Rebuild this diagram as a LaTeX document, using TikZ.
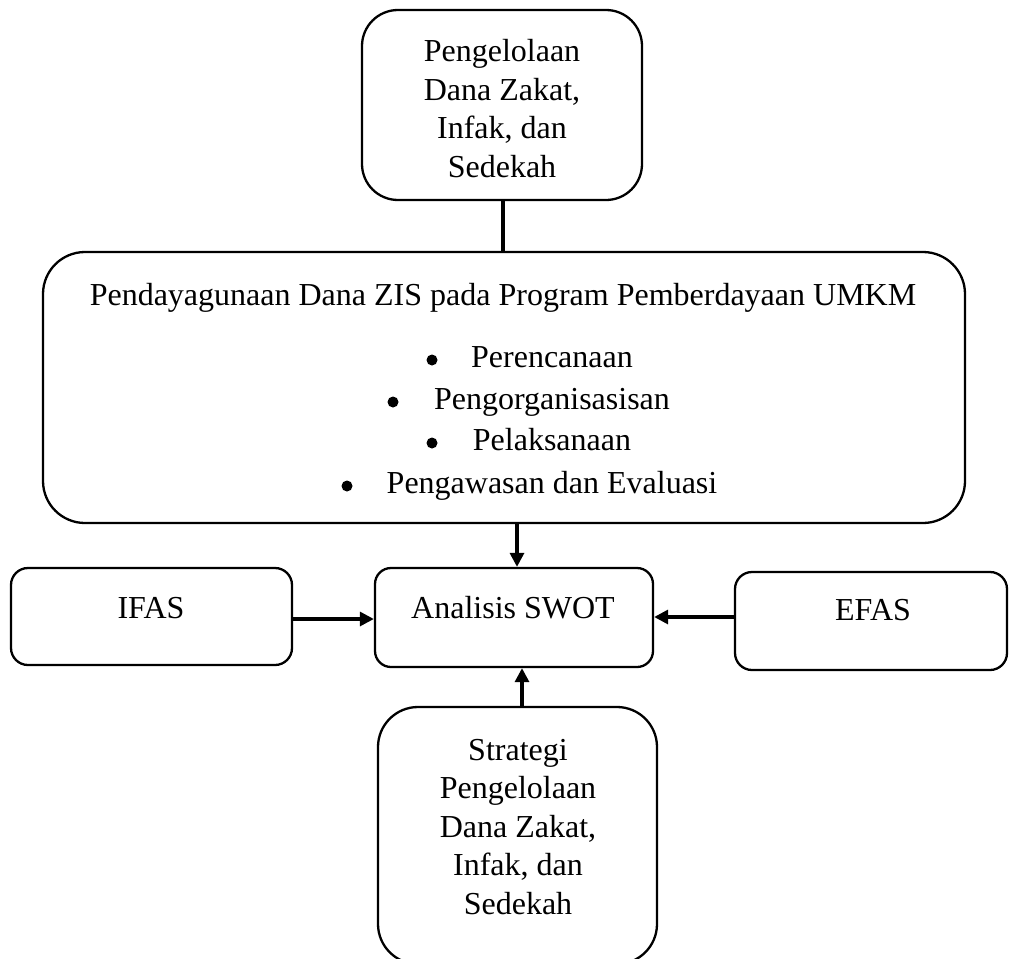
\documentclass[tikz,border=0pt]{standalone}
\usepackage{fontspec}
\setmainfont{Liberation Serif}
\usetikzlibrary{arrows.meta}
\begin{document}
\begin{tikzpicture}[x=1pt,y=-1pt,
  box/.style={draw, line width=2.3pt, rounded corners=#1, inner sep=0pt},
  box/.default=36pt,
  txt/.style={font=\fontsize{32}{38.5}\selectfont, align=center, inner sep=0pt, anchor=base},
  bul/.style={fill=black},
  conn/.style={line width=3.2pt},
  arr/.style={conn, -{Triangle[length=14pt,width=14pt]}}]
\useasboundingbox (0,0) rectangle (1011,958);
% boxes
\node[box=36pt, minimum width=280pt, minimum height=190pt] (top) at (502,105) {};
\node[box=42pt, minimum width=922pt, minimum height=271pt] (big) at (504,387.5) {};
\node[box=17pt, minimum width=281pt, minimum height=97pt] (ifas) at (151.5,616.5) {};
\node[box=16pt, minimum width=278pt, minimum height=99pt] (swot) at (514,617.5) {};
\node[box=17pt, minimum width=272pt, minimum height=98pt] (efas) at (871,621) {};
\node[box=40pt, minimum width=279pt, minimum height=257pt] (bot) at (517.5,835.5) {};
% texts (multi-line nodes: base = last line)
\node[txt] (topT) at (502,177) {Pengelolaan\\Dana Zakat,\\Infak, dan\\Sedekah};
\node[txt] (bigT) at (503,305) {Pendayagunaan Dana ZIS pada Program Pemberdayaan UMKM};
\node[txt] (b1) at (552,367) {Perencanaan};
\node[txt] (b2) at (552,409) {Pengorganisasisan};
\node[txt] (b3) at (552,450) {Pelaksanaan};
\node[txt] (b4) at (552,493) {Pengawasan dan Evaluasi};
\fill[bul] (432,360) circle (5.5pt);
\fill[bul] (393,402) circle (5.5pt);
\fill[bul] (432,443) circle (5.5pt);
\fill[bul] (347,486) circle (5.5pt);
\node[txt] (ifasT) at (151,618) {IFAS};
\node[txt] (swotT) at (513,618) {Analisis SWOT};
\node[txt] (efasT) at (873,620) {EFAS};
\node[txt] (botT) at (518,914) {Strategi\\Pengelolaan\\Dana Zakat,\\Infak, dan\\Sedekah};
% connector anchors
\coordinate (x1) at (503,0);
\coordinate (x2) at (517,0);
\coordinate (x3) at (522,0);
\coordinate (y1) at (0,619);
\coordinate (y2) at (0,617);
% connectors
\draw[conn] (top.south -| x1) -- (big.north -| x1);
\draw[arr] (big.south -| x2) -- (swot.north -| x2);
\draw[arr] (ifas.east |- y1) -- (swot.west |- y1);
\draw[arr] (efas.west |- y2) -- (swot.east |- y2);
\draw[arr] (bot.north -| x3) -- (swot.south -| x3);
\end{tikzpicture}
\end{document}
